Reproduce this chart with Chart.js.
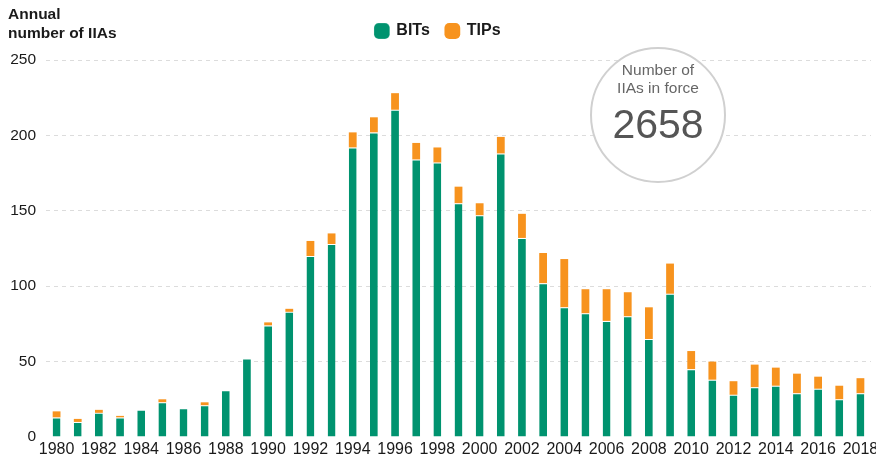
<!DOCTYPE html>
<html>
<head>
<meta charset="utf-8">
<script src="https://cdn.jsdelivr.net/npm/chart.js@4/dist/chart.umd.min.js"></script>
<style>
  html, body { margin: 0; padding: 0; background: #fff; }
  #wrap { position: relative; width: 876px; height: 459px; }
</style>
</head>
<body>
<div id="wrap"><canvas id="iia_chart" width="876" height="459"></canvas></div>
<script>
// years 1980 - 2018
const years = [];
for (let y = 1980; y <= 2018; y++) years.push(String(y));

const bits = [13, 10, 16, 13, 18, 23, 19, 21, 31, 52,
              74, 83, 120, 128, 192, 202, 217, 184, 182, 155,
              147, 188, 132, 102, 86, 82, 77, 80, 65, 95,
              45, 38, 28, 33, 34, 29, 32, 25, 29];
const tips = [4, 2, 2, 1, 0, 2, 0, 2, 0, 0,
              2, 2, 10, 7, 10, 10, 11, 11, 10, 11,
              8, 11, 16, 20, 32, 16, 21, 16, 21, 20,
              12, 12, 9, 15, 12, 13, 8, 9, 10];
const yTicks = [0, 50, 100, 150, 200, 250];
const inForce = '2658';

const colours = { bits: '#00936f', tips: '#f7931e' };
const font = "'Liberation Sans', Arial, Helvetica, sans-serif";

// extra room under the legend
const legendMargin = {
    id: 'legendMargin',
    beforeInit(chart) {
        const fitValue = chart.legend.fit;
        chart.legend.fit = function () {
            fitValue.bind(chart.legend)();
            this.height += 11;
        };
    }
};

// axis title top-left + the "in force" circle
const extras = {
    id: 'extras',
    afterDraw(chart) {
        const ctx = chart.ctx;
        ctx.save();
        ctx.fillStyle = '#1a1a1a';
        ctx.font = 'bold 15.5px ' + font;
        ctx.textAlign = 'left';
        ctx.textBaseline = 'middle';
        ctx.fillText('Annual', 8, 15);
        ctx.fillText('number of IIAs', 8, 34);

        const cx = 658, cy = 115, r = 67;
        ctx.beginPath();
        ctx.arc(cx, cy, r, 0, Math.PI * 2);
        ctx.fillStyle = '#fff';
        ctx.fill();
        ctx.lineWidth = 2;
        ctx.strokeStyle = '#d0d0d0';
        ctx.stroke();

        ctx.fillStyle = '#666';
        ctx.textAlign = 'center';
        ctx.font = '15.5px ' + font;
        ctx.fillText('Number of', cx, 71);
        ctx.fillText('IIAs in force', cx, 89);
        ctx.fillStyle = '#555';
        ctx.font = '41px ' + font;
        ctx.fillText(inForce, cx, 127);
        ctx.restore();
    }
};

const chartdata = {
    labels: years,
    datasets: [
        {
            label: 'BITs',
            data: bits,
            backgroundColor: colours.bits,
            borderColor: 'rgba(255,255,255,0.8)',
            borderWidth: { top: 1, left: 0, right: 0, bottom: 0 },
            borderSkipped: false
        },
        {
            label: 'TIPs',
            data: tips,
            backgroundColor: colours.tips,
            borderWidth: 0
        }
    ]
};

const options = {
    responsive: false,
    animation: false,
    layout: { padding: { left: 5, right: 5, top: 7, bottom: 0 } },
    datasets: { bar: { barPercentage: 0.88, categoryPercentage: 0.42 } },
    plugins: {
        legend: {
            position: 'top',
            labels: {
                usePointStyle: true,
                pointStyle: 'rectRounded',
                boxWidth: 13,
                boxHeight: 13,
                padding: 16,
                color: '#1a1a1a',
                font: { family: font, size: 16, weight: 'bold' }
            }
        },
        tooltip: { enabled: false }
    },
    scales: {
        x: {
            stacked: true,
            afterFit: function (scale) {
                scale.height = 22;
                scale.paddingLeft = 0;
                scale.paddingRight = 0;
            },
            grid: { display: false, drawTicks: false },
            border: { display: false },
            ticks: {
                autoSkip: false,
                maxRotation: 0,
                padding: 3,
                color: '#1a1a1a',
                font: { family: font, size: 16 },
                callback: function (val, i) { return i % 2 === 0 ? years[i] : ''; }
            }
        },
        y: {
            stacked: true,
            min: 0,
            max: 250,
            afterFit: function (scale) { scale.width = 41; },
            afterBuildTicks: function (scale) { scale.ticks = yTicks.map(v => ({ value: v })); },
            border: { display: false, dash: [4, 4] },
            grid: {
                drawTicks: false,
                color: ctx => ctx.tick && ctx.tick.value === 0 ? 'rgba(0,0,0,0)' : '#dcdcdc'
            },
            ticks: {
                padding: 10,
                color: '#1a1a1a',
                font: { family: font, size: 15.5 }
            }
        }
    }
};

new Chart(document.getElementById('iia_chart'), {
    type: 'bar',
    data: chartdata,
    options: options,
    plugins: [legendMargin, extras]
});
</script>
</body>
</html>
